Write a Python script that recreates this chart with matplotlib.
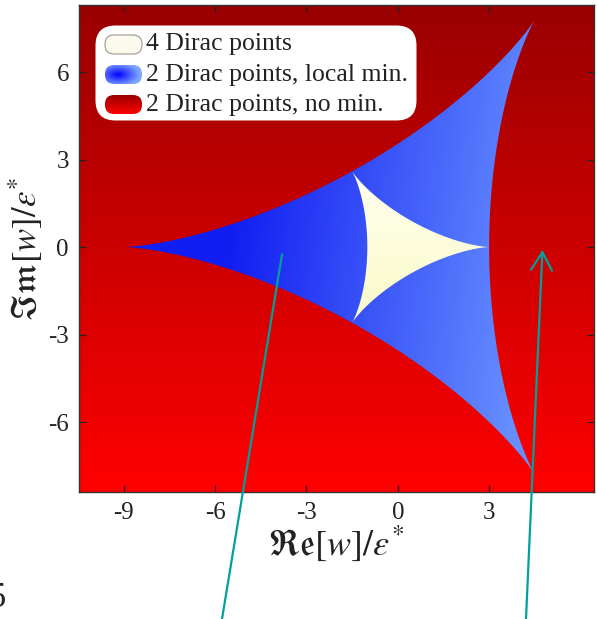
import numpy as np
import matplotlib
matplotlib.use("Agg")
import matplotlib.pyplot as plt
from matplotlib.path import Path
from matplotlib.patches import PathPatch, FancyBboxPatch

plt.rcParams["font.family"] = ["Liberation Serif", "DejaVu Serif"]
plt.rcParams["mathtext.fontset"] = "stix"
plt.rcParams["axes.unicode_minus"] = False

# Phase boundaries in the complex w-plane: deltoids w(t) = s * (2 e^{it} + e^{-2it})
outer_scale = -3.0   # edge of the local-minimum region (cusps at -9 and 9 e^{±i pi/3})
inner_scale = 1.0    # edge of the four-Dirac-point region (cusps at 3 and 3 e^{±2i pi/3})

x_ticks = [-9, -6, -3, 0, 3]
y_ticks = [-6, -3, 0, 3, 6]
x_range = (-10.48, 6.43)
y_range = (-8.4, 8.3)

legend_labels = ["4 Dirac points", "2 Dirac points, local min.", "2 Dirac points, no min."]

# points picked out by the pointers (data coordinates) and their tails (figure pixels)
pointer_targets = [(-3.8, -0.25), (4.75, -0.1)]
pointer_tails = [(222, 0), (526, 0)]
pointer_heads = ["-", "->"]

teal = "#00a09c"
W, H = 597, 619


def deltoid(scale, n=3000):
    t = np.linspace(0.0, 2.0 * np.pi, n)
    z = scale * (2.0 * np.exp(1j * t) + np.exp(-2j * t))
    return np.column_stack([z.real, z.imag])


fig = plt.figure(figsize=(W / 100, H / 100), dpi=100)
ax = fig.add_axes([78.6 / W, 1 - 492 / H, 515 / W, 487 / H])

N = 900
xs = np.linspace(*x_range, N)
ys = np.linspace(*y_range, N)
X, Y = np.meshgrid(xs, ys)
extent = [x_range[0], x_range[1], y_range[0], y_range[1]]

# background: no local minimum (dark red at top, bright red at bottom)
v = (Y - y_range[0]) / (y_range[1] - y_range[0])
red = np.zeros((N, N, 3))
red[..., 0] = 1.0 - 0.4 * v
ax.imshow(red, extent=extent, origin="lower", aspect="auto",
          interpolation="bilinear", zorder=0)

# local-minimum region
f = np.clip((X + 5.5) / 10.0 - 0.012 * Y, 0, 1)
c0 = np.array([0.07, 0.12, 0.95])
c1 = np.array([0.40, 0.56, 1.0])
blue = c0 + f[..., None] * (c1 - c0)
im_b = ax.imshow(blue, extent=extent, origin="lower", aspect="auto",
                 interpolation="bilinear", zorder=1)
outer_patch = PathPatch(Path(deltoid(outer_scale), closed=True),
                        transform=ax.transData, facecolor="none", edgecolor="none")
im_b.set_clip_path(outer_patch)

# four-Dirac-point region
g = np.clip((Y + 2.6) / 5.2, 0, 1)
top = np.array([1.0, 1.0, 0.94])
bot = np.array([0.98, 0.98, 0.78])
cream = bot + g[..., None] * (top - bot)
im_c = ax.imshow(cream, extent=extent, origin="lower", aspect="auto",
                 interpolation="bilinear", zorder=2)
inner_patch = PathPatch(Path(deltoid(inner_scale), closed=True),
                        transform=ax.transData, facecolor="none", edgecolor="none")
im_c.set_clip_path(inner_patch)

ax.set_xlim(*x_range)
ax.set_ylim(*y_range)
ax.set_xticks(x_ticks)
ax.set_yticks(y_ticks)
ax.tick_params(direction="in", top=True, right=True, length=5, width=0.9,
               labelsize=18, pad=7, labelcolor="#222222", color="#222222")
for s in ax.spines.values():
    s.set_linewidth(1.0)
    s.set_color("#333333")
    s.set_zorder(5)

ax.set_xlabel(r"$\mathfrak{Re}[w]/\varepsilon^{*}$", fontsize=26, labelpad=0, color="#222222")
ax.set_ylabel(r"$\mathfrak{Im}[w]/\varepsilon^{*}$", fontsize=25, labelpad=2, color="#222222")

# pointers
for tgt, tail, head in zip(pointer_targets, pointer_tails, pointer_heads):
    style = head if head == "-" else "->,head_length=0.65,head_width=0.38"
    ax.annotate("", xy=tgt, xycoords="data", xytext=tail, textcoords="figure pixels",
                arrowprops=dict(arrowstyle=style, color=teal, lw=1.6, shrinkA=0, shrinkB=0,
                                mutation_scale=20),
                annotation_clip=False, zorder=6)

# legend, laid out in pixel units
bx0, by0, bx1, by1 = 95, 25, 417, 121
lax = fig.add_axes([bx0 / W, 1 - by1 / H, (bx1 - bx0) / W, (by1 - by0) / H])
lax.set_xlim(bx0, bx1)
lax.set_ylim(by1, by0)
lax.axis("off")
lax.add_patch(FancyBboxPatch((bx0 + 0.5, by0 + 0.5), bx1 - bx0 - 1, by1 - by0 - 1,
                             boxstyle="round,pad=0,rounding_size=20",
                             facecolor="white", edgecolor="none", clip_on=False))

pill_x0, pill_x1 = 105, 142
pill_tops = [35, 65, 95]
pill_h = 19
baselines = [50, 81, 111.5]

n = 60
u = np.linspace(0, 1, n)
PU, PV = np.meshgrid(u, u)  # PV = 0 at top row
r = np.sqrt(((PU - 0.35) / 0.6) ** 2 + ((PV - 0.5) / 0.6) ** 2)
r = np.clip(r, 0, 1)
pill_imgs = [
    np.ones((n, n, 3)) * np.array([0.99, 0.98, 0.93]),
    np.array([0.0, 0.0, 1.0]) + r[..., None] * (np.array([0.5, 0.65, 1.0]) - np.array([0.0, 0.0, 1.0])),
    np.array([0.6, 0.0, 0.0]) + PV[..., None] * (np.array([1.0, 0.0, 0.0]) - np.array([0.6, 0.0, 0.0])),
]
pill_edges = ["#9a9a90", "none", "none"]

for ptop, img, ec, lbl, bl in zip(pill_tops, pill_imgs, pill_edges, legend_labels, baselines):
    pp = FancyBboxPatch((pill_x0, ptop), pill_x1 - pill_x0, pill_h,
                        boxstyle="round,pad=0,rounding_size=9",
                        facecolor="none", edgecolor=ec, lw=0.8, zorder=3, clip_on=False)
    lax.add_patch(pp)
    im = lax.imshow(img, extent=(pill_x0, pill_x1, ptop + pill_h, ptop), origin="upper",
                    aspect="auto", interpolation="bilinear", zorder=2)
    im.set_clip_path(pp)
    lax.text(146, bl, lbl, ha="left", va="baseline", fontsize=18.5, color="#222222")
lax.set_xlim(bx0, bx1)
lax.set_ylim(by1, by0)

# panel number at the left edge
fig.text(6 / W, 1 - 607 / H, "5", ha="right", va="baseline", fontsize=25, color="#222222")

fig.savefig("out.png", dpi=100)
